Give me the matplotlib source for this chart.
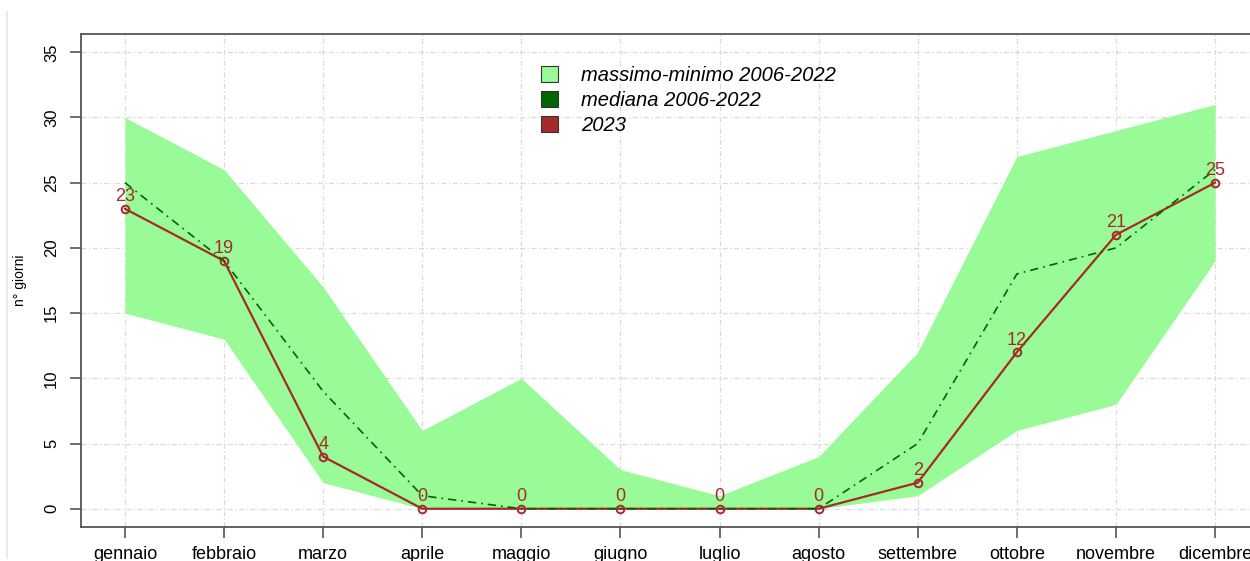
import numpy as np
import matplotlib.pyplot as plt
from matplotlib.lines import Line2D
from matplotlib.patches import Patch

plt.rcParams['font.family'] = ['Liberation Sans', 'DejaVu Sans']

# --- DATI ---
mesi = ['gennaio', 'febbraio', 'marzo', 'aprile', 'maggio', 'giugno',
        'luglio', 'agosto', 'settembre', 'ottobre', 'novembre', 'dicembre']
massimo = [30, 26, 17, 6, 10, 3, 1, 4, 12, 27, 29, 31]
minimo = [15, 13, 2, 0, 0, 0, 0, 0, 1, 6, 8, 19]
mediana = [25, 19, 9, 1, 0, 0, 0, 0, 5, 18, 20, 26]
anno_2023 = [23, 19, 4, 0, 0, 0, 0, 0, 2, 12, 21, 25]

COL_FILL = '#98FB98'
COL_MED = '#006400'
COL_2023 = '#A52A2A'
COL_BOX = '#555555'

x = np.arange(1, len(mesi) + 1)

fig = plt.figure(figsize=(12.5, 5.61), dpi=100)
ax = fig.add_axes([0.0651, 0.0606, 0.9418, 0.8788])

# griglia sotto all'area
ax.set_axisbelow(True)
for xv in x:
    ax.axvline(xv, color='#d9d9d9', lw=0.9, ls=(0, (4, 2, 1, 2)), zorder=0)
for yv in range(0, 36, 5):
    ax.axhline(yv, color='#d9d9d9', lw=0.9, ls=(0, (4, 2, 1, 2)), zorder=0)

ax.fill_between(x, minimo, massimo, color=COL_FILL, lw=0, zorder=1)

ax.plot(x, anno_2023, color=COL_2023, lw=1.6, zorder=2)
ax.plot(x, anno_2023, ls='none', marker='o', ms=5.5, mfc='none',
        mec=COL_2023, mew=1.4, zorder=3)
ax.plot(x, mediana, color=COL_MED, lw=1.2, ls=(0, (5, 3, 1, 3)), zorder=4)

for xi, yi in zip(x, anno_2023):
    ax.annotate(str(yi), (xi, yi), xytext=(0, 2.5), textcoords='offset points',
                ha='center', va='bottom', color=COL_2023, fontsize=13, zorder=5)

ax.set_xlim(0.56, 12.44)
ax.set_ylim(-1.4, 36.4)
ax.set_xticks(x)
ax.set_xticklabels(mesi, fontsize=13)
ax.set_yticks(range(0, 36, 5))
ax.set_yticklabels([str(v) for v in range(0, 36, 5)], fontsize=12,
                   rotation=90, va='center')
ax.tick_params(axis='x', length=8, width=1.2, color=COL_BOX, pad=6)
ax.tick_params(axis='y', length=8, width=1.2, color=COL_BOX, pad=8)
for s in ax.spines.values():
    s.set_color(COL_BOX)
    s.set_linewidth(1.3)
ax.set_ylabel('n° giorni', fontsize=10, labelpad=12)

handles = [Patch(facecolor=COL_FILL, edgecolor='#333333', lw=0.8),
           Patch(facecolor=COL_MED, edgecolor='#333333', lw=0.8),
           Patch(facecolor=COL_2023, edgecolor='#333333', lw=0.8)]
labels = ['massimo-minimo 2006-2022', 'mediana 2006-2022', '2023']
leg = ax.legend(handles, labels, loc='upper left', bbox_to_anchor=(0.375, 0.972),
                frameon=False, prop={'size': 14.5, 'style': 'italic'},
                handlelength=0.85, handleheight=0.85, handletextpad=1.15,
                labelspacing=0.3)

# bordo sottile a sinistra
fig.add_artist(Line2D([0.0056, 0.0056], [0.005, 0.978], color='#e6e6e6', lw=1.2))

fig.savefig('out.png', dpi=100)
